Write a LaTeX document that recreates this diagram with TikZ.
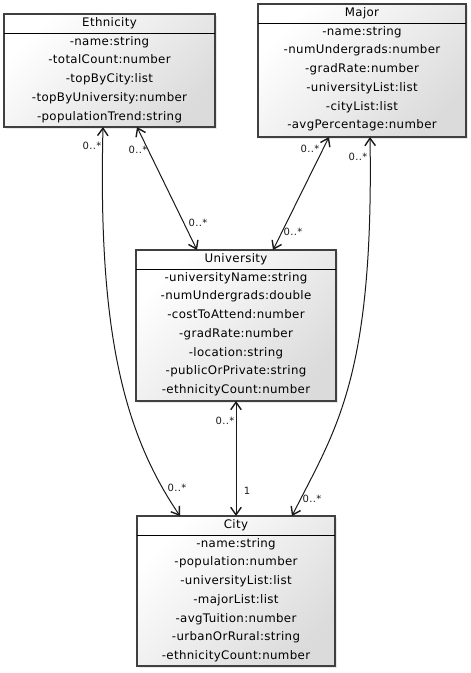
\documentclass[tikz,border=0pt]{standalone}
\usepackage{fontspec}
\setmainfont{DejaVu Sans}[LetterSpace=3]
\usetikzlibrary{arrows.meta,shadows}
\newcommand{\umlclass}[7]{% name, x1, y1, x2, y2, title, attrs
  \pgfmathsetmacro\ucx{(#2+#4)/2}
  \pgfmathsetmacro\ucy{(#3+#5)/2}
  \node[classbox, minimum width={(#4-#2)*1pt}, minimum height={(#5-#3)*1pt}] (#1) at (\ucx,\ucy) {};
  \node[attr] (#1t) at (\ucx,{#3+9.5}) {#6};
  \draw[sepline] (#2,{#3+19.5}) -- (#4,{#3+19.5});
  \foreach \a [count=\i] in {#7} {
    \node[attr] (#1a\i) at (\ucx,{#3+28+18.75*(\i-1)}) {\a};
  }
}
\begin{document}
\begin{tikzpicture}[x=1pt,y=-1pt,
  classbox/.style={draw=black!75, line width=1.1pt, inner sep=0pt, outer sep=0pt,
    top color=white, bottom color=black!14, shading angle=45,
    drop shadow={opacity=0.18, shadow xshift=2pt, shadow yshift=-2pt}},
  sepline/.style={draw=black, line width=1.1pt},
  attr/.style={inner sep=0pt, font=\fontsize{11.8}{14}\selectfont, text=black,
    text height=8.6pt, text depth=2.4pt},
  mult/.style={inner sep=0pt, font=\fontsize{10}{12}\selectfont, text=black!90},
  assoc/.style={draw=black!90, line width=1pt,
    {Straight Barb[length=7.5pt,width=10.5pt,line width=1.4pt]}-{Straight Barb[length=7.5pt,width=10.5pt,line width=1.4pt]}}
]
\useasboundingbox (0,0) rectangle (471,673);

\umlclass{eth}{4}{14}{215}{127}{Ethnicity}{-name:string,-totalCount:number,-topByCity:list,-topByUniversity:number,-populationTrend:string}
\umlclass{maj}{258}{4}{466}{137}{Major}{-name:string,-numUndergrads:number,-gradRate:number,-universityList:list,-cityList:list,-avgPercentage:number}
\umlclass{uni}{136}{250}{336}{401}{University}{-universityName:string,-numUndergrads:double,-costToAttend:number,-gradRate:number,-location:string,-publicOrPrivate:string,-ethnicityCount:number}
\umlclass{cit}{137}{516}{335}{666}{City}{-name:string,-population:number,-universityList:list,-majorList:list,-avgTuition:number,-urbanOrRural:string,-ethnicityCount:number}

% connectors
\draw[assoc] ([xshift=99pt]eth.south west) .. controls (98,330) and (123,432) .. ([xshift=43pt]cit.north west);
\draw[assoc] ([xshift=133pt]eth.south west) -- ([xshift=61pt]uni.north west);
\draw[assoc] ([xshift=71pt]maj.south west) -- ([xshift=137pt]uni.north west);
\draw[assoc] ([xshift=112pt]maj.south west) .. controls (374,380) and (335,430) .. ([xshift=155pt]cit.north west);
\draw[assoc] ([xshift=100pt]uni.south west) -- ([xshift=99pt]cit.north west);

% multiplicities
\node[mult] (m1) at (92,146) {0..*};
\node[mult] (m2) at (138,150) {0..*};
\node[mult] (m3) at (198,223) {0..*};
\node[mult] (m4) at (310,149) {0..*};
\node[mult] (m5) at (293,232) {0..*};
\node[mult] (m6) at (358,157) {0..*};
\node[mult] (m7) at (225,421) {0..*};
\node[mult] (m8) at (247,491) {1};
\node[mult] (m9) at (177,488) {0..*};
\node[mult] (m10) at (312,499) {0..*};
\end{tikzpicture}
\end{document}
